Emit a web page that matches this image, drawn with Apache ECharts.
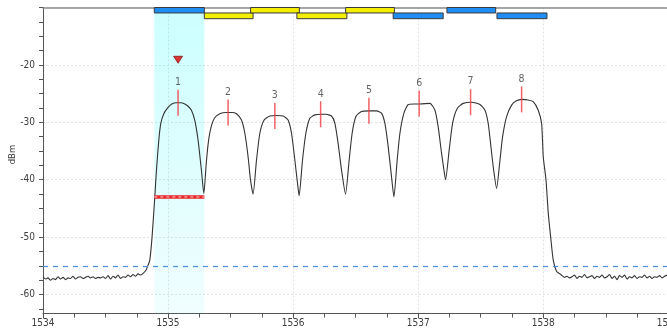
<!DOCTYPE html>
<html>
<head>
<meta charset="utf-8">
<script src="https://cdn.jsdelivr.net/npm/echarts@6/dist/echarts.min.js"></script>
<style>
  html, body { margin: 0; padding: 0; background: #fff; }
  #osaChart { width: 667px; height: 331px; }
</style>
</head>
<body>
<div id="osaChart"></div>
<script>
// 光谱数据 (nm, dBm)
var floorLeft = [
  [1534.00, -56.9], [1534.02, -57.3], [1534.04, -57.1], [1534.06, -57.5], [1534.08, -57.2],
  [1534.10, -57.4], [1534.12, -56.9], [1534.14, -57.3], [1534.16, -57.0], [1534.18, -57.4],
  [1534.20, -57.1], [1534.22, -57.2], [1534.24, -56.8], [1534.26, -57.3], [1534.28, -57.0],
  [1534.30, -56.9], [1534.32, -57.2], [1534.34, -57.0], [1534.36, -56.8], [1534.38, -57.1],
  [1534.40, -56.9], [1534.42, -57.2], [1534.44, -57.0], [1534.46, -57.1], [1534.48, -56.9],
  [1534.50, -57.2], [1534.52, -56.7], [1534.54, -57.3], [1534.56, -56.8], [1534.58, -57.1],
  [1534.60, -56.6], [1534.62, -57.2], [1534.64, -56.9], [1534.66, -57.0], [1534.68, -56.6],
  [1534.70, -56.9], [1534.72, -56.5], [1534.74, -56.8], [1534.76, -56.4], [1534.78, -56.6]
];
var channelTrace = [
  // ch1
  [1534.800, -56.3], [1534.822, -55.8], [1534.838, -55.0], [1534.854, -54.0], [1534.872, -50.0],
  [1534.894, -43.0], [1534.907, -38.4], [1534.926, -33.1], [1534.942, -30.2], [1534.966, -28.5],
  [1535.000, -27.4], [1535.030, -26.8], [1535.067, -26.6], [1535.100, -26.6], [1535.134, -26.8],
  [1535.160, -27.2], [1535.187, -27.9], [1535.214, -29.7], [1535.240, -33.1], [1535.267, -38.4],
  [1535.286, -42.4],
  // ch2
  [1535.306, -37.0], [1535.322, -33.5], [1535.342, -31.0], [1535.373, -29.2], [1535.414, -28.5],
  [1535.467, -28.3], [1535.510, -28.3], [1535.547, -28.5], [1535.587, -29.6], [1535.614, -31.9],
  [1535.640, -36.0], [1535.659, -40.0], [1535.680, -42.5],
  // ch3
  [1535.707, -36.6], [1535.734, -31.9], [1535.768, -29.6], [1535.814, -28.9], [1535.866, -28.8],
  [1535.920, -28.9], [1535.960, -29.6], [1535.987, -31.9], [1536.014, -36.6], [1536.035, -40.6],
  [1536.048, -42.8],
  // ch4
  [1536.075, -36.6], [1536.102, -31.9], [1536.134, -29.3], [1536.174, -28.7], [1536.227, -28.6],
  [1536.262, -28.6], [1536.307, -28.9], [1536.334, -30.2], [1536.360, -33.7], [1536.387, -38.3],
  [1536.419, -42.5],
  // ch5
  [1536.448, -36.6], [1536.472, -31.9], [1536.502, -29.0], [1536.547, -28.1], [1536.606, -28.0],
  [1536.667, -28.0], [1536.707, -28.4], [1536.734, -30.2], [1536.760, -34.2], [1536.787, -39.5],
  [1536.806, -43.0],
  // ch6
  [1536.832, -36.6], [1536.854, -31.9], [1536.886, -28.4], [1536.920, -26.9], [1536.966, -26.8],
  [1537.014, -26.8], [1537.094, -26.7], [1537.134, -27.9], [1537.160, -30.8], [1537.187, -35.4],
  [1537.206, -38.3], [1537.219, -40.0],
  // ch7
  [1537.248, -34.8], [1537.275, -30.2], [1537.312, -27.6], [1537.360, -26.7], [1537.427, -26.5],
  [1537.494, -26.9], [1537.534, -27.9], [1537.560, -30.2], [1537.579, -33.7], [1537.600, -37.7],
  [1537.627, -41.5],
  // ch8
  [1537.654, -36.6], [1537.675, -32.5], [1537.707, -29.0], [1537.747, -27.0], [1537.782, -26.3],
  [1537.827, -26.0], [1537.878, -26.1], [1537.920, -26.4], [1537.960, -27.9], [1537.987, -30.2],
  [1538.000, -36.0], [1538.022, -40.0], [1538.040, -45.8], [1538.059, -49.9], [1538.080, -54.0],
  [1538.107, -56.0], [1538.134, -56.4]
];
var floorRight = [
  [1538.15, -56.7], [1538.17, -57.0], [1538.19, -56.8], [1538.21, -57.1], [1538.23, -56.9],
  [1538.25, -56.6], [1538.27, -57.2], [1538.29, -56.8], [1538.31, -57.0], [1538.33, -56.5],
  [1538.35, -57.1], [1538.37, -56.9], [1538.39, -56.7], [1538.41, -57.2], [1538.43, -56.8],
  [1538.45, -57.0], [1538.47, -56.6], [1538.49, -57.1], [1538.51, -56.9], [1538.53, -56.5],
  [1538.55, -57.2], [1538.57, -56.8], [1538.59, -57.4], [1538.61, -56.7], [1538.63, -57.0],
  [1538.65, -56.6], [1538.67, -57.3], [1538.69, -56.9], [1538.71, -57.1], [1538.73, -56.7],
  [1538.75, -57.2], [1538.77, -56.9], [1538.79, -57.0], [1538.81, -56.6], [1538.83, -57.1],
  [1538.85, -56.8], [1538.87, -57.2], [1538.89, -56.9], [1538.91, -57.0], [1538.93, -56.7],
  [1538.95, -57.1], [1538.97, -56.8], [1538.99, -56.6]
];

// 峰值标记
var peakNames = ['1', '2', '3', '4', '5', '6', '7', '8'];
var peakNm = [1535.080, 1535.480, 1535.854, 1536.220, 1536.606, 1537.008, 1537.419, 1537.827];
var peakDbm = [-26.6, -28.3, -28.9, -28.6, -28.0, -26.7, -26.5, -26.0];

// 信道条
var chStart = [1534.89, 1535.29, 1535.66, 1536.03, 1536.42, 1536.80, 1537.23, 1537.63];
var chEnd = [1535.29, 1535.68, 1536.05, 1536.43, 1536.81, 1537.20, 1537.62, 1538.03];
var chRow = [0, 1, 0, 1, 0, 1, 0, 1];
var chColor = ['#1e8ef5', '#f4ef00', '#f4ef00', '#f4ef00', '#f4ef00', '#1e8ef5', '#1e8ef5', '#1e8ef5'];
var rowTop = [-10, -10.95];
var rowBottom = [-10.95, -11.95];

var selBand = [1534.89, 1535.29];
var selLevel = -43;
var markerNm = 1535.08, markerDbm = -19.1;
var thresholdDbm = -55;

var yTickValues = [-62.5, -60, -57.5, -55, -52.5, -50, -47.5, -45, -42.5, -40, -37.5, -35,
  -32.5, -30, -27.5, -25, -22.5, -20, -17.5, -15, -12.5, -10];

var myChart = echarts.init(document.getElementById('osaChart'));
var font = "'DejaVu Sans Condensed', 'DejaVu Sans'";

var option = {
    backgroundColor: '#fff',
    animation: false,
    grid: { left: 43, right: -1.3, top: 7.5, bottom: 17.5, containLabel: false, outerBoundsMode: 'none' },
    xAxis: [{
        type: 'value', min: 1534, max: 1539, interval: 1,
        axisLine: { lineStyle: { color: '#555', width: 1 } },
        axisTick: { length: 5, lineStyle: { color: '#555' } },
        minorTick: { show: true, splitNumber: 4, length: 4, lineStyle: { color: '#555' } },
        minorSplitLine: { show: false },
        axisLabel: {
            margin: 5, color: '#3c3c3c', fontSize: 10, fontFamily: font,
            formatter: function (v) { return String(v); }
        },
        splitLine: { show: true, lineStyle: { color: '#e2e2e2', type: [2, 2] } }
    }, {
        type: 'value', position: 'top', min: 1534, max: 1539,
        axisLine: { show: true, lineStyle: { color: '#8c8c8c', width: 1.5 } },
        axisTick: { show: false }, axisLabel: { show: false }, splitLine: { show: false }
    }],
    yAxis: [{
        type: 'value', min: -63.3, max: -10,
        name: 'dBm', nameLocation: 'middle', nameGap: 25, nameMoveOverlap: false,
        nameTextStyle: { color: '#3c3c3c', fontSize: 9.5, fontFamily: font, padding: [0, 0, 0, 12] },
        axisLine: { show: true, lineStyle: { color: '#555', width: 1 } },
        axisTick: { show: false },
        minorSplitLine: { show: false },
        axisLabel: {
            margin: 8, color: '#3c3c3c', fontSize: 10, fontFamily: font,
            formatter: function (v) { return (Math.abs(v % 10) < 1e-6 && v < -10) ? String(v) : ''; }
        },
        splitLine: { show: true, lineStyle: { color: '#e2e2e2', type: [2, 2] } }
    }, {
        type: 'value', position: 'left', min: -63.3, max: -10,
        axisLine: { show: false },
        axisTick: { show: true, length: 4, customValues: yTickValues, lineStyle: { color: '#555' } },
        axisLabel: { show: false },
        splitLine: { show: false }
    }],
    series: [
        {
            name: 'trace', type: 'line',
            data: floorLeft.concat(channelTrace, floorRight),
            showSymbol: false, smooth: 0.2, z: 3,
            lineStyle: { color: '#333', width: 1.1 },
            markArea: {
                silent: true,
                itemStyle: {
                    color: new echarts.graphic.LinearGradient(0, 0, 0, 1, [
                        { offset: 0, color: 'rgba(0,255,255,0.2)' },
                        { offset: 1, color: 'rgba(0,235,245,0.06)' }
                    ])
                },
                data: [[{ xAxis: selBand[0] }, { xAxis: selBand[1] }]]
            },
            markLine: {
                silent: true, symbol: 'none', label: { show: false },
                lineStyle: { color: '#4a8edc', width: 1.2, type: [5, 5] },
                data: [{ yAxis: thresholdDbm }]
            }
        },
        {
            type: 'line', data: [[selBand[0], selLevel], [selBand[1], selLevel]],
            showSymbol: false, z: 4,
            lineStyle: { color: '#e8262b', width: 3.5 }
        },
        {
            type: 'line', data: [[selBand[0], selLevel], [selBand[1], selLevel]],
            showSymbol: false, z: 5,
            lineStyle: { color: '#ffd0d0', width: 1, type: [3, 3] }
        },
        {
            type: 'scatter', z: 6,
            data: peakNm.map(function (x, i) { return { value: [x, peakDbm[i]], name: peakNames[i] }; }),
            symbol: 'rect', symbolSize: [1.5, 26],
            itemStyle: { color: '#ee3b3f' },
            label: {
                show: true, position: 'top', distance: 2,
                formatter: '{b}', color: '#3c3c3c', fontSize: 10.5, fontFamily: font
            }
        },
        {
            type: 'scatter', z: 6,
            data: [[markerNm, markerDbm]],
            symbol: 'triangle', symbolRotate: 180, symbolSize: [9, 7],
            itemStyle: { color: '#e40000', borderColor: '#6a0000', borderWidth: 0.8 }
        },
        {
            type: 'custom', z: 7,
            data: chStart.map(function (s, i) { return [s, chEnd[i], rowTop[chRow[i]], rowBottom[chRow[i]], i]; }),
            encode: { x: [0, 1], y: [2, 3] },
            renderItem: function (params, api) {
                var p0 = api.coord([api.value(0), api.value(2)]);
                var p1 = api.coord([api.value(1), api.value(3)]);
                return {
                    type: 'rect',
                    shape: { x: p0[0], y: p0[1], width: p1[0] - p0[0], height: p1[1] - p0[1] },
                    style: { fill: chColor[api.value(4)], stroke: '#3a3a3a', lineWidth: 1 }
                };
            }
        }
    ]
};
myChart.setOption(option);
</script>
</body>
</html>
